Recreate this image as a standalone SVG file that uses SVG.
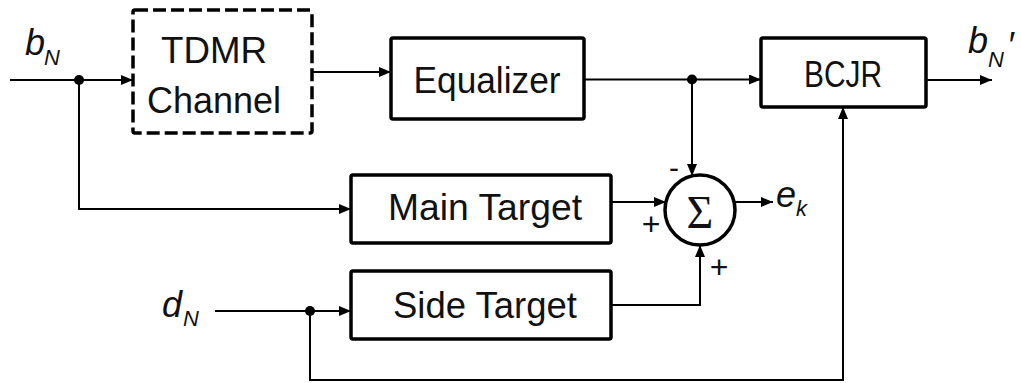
<svg xmlns="http://www.w3.org/2000/svg" width="1021" height="383" viewBox="0 0 1021 383">
  <style>
    .box { fill: #ffffff; stroke: #000000; stroke-width: 3.5; }
    .dash { stroke-dasharray: 13 5; }
    .lbl { font-family: "Liberation Sans", Arial, sans-serif; font-size: 36px; fill: #111111; text-anchor: middle; }
    .var { font-family: "Liberation Sans", Arial, sans-serif; font-style: italic; fill: #111111; font-size: 36px; }
    .sub { font-family: "Liberation Sans", Arial, sans-serif; font-style: italic; fill: #111111; font-size: 22px; }
    .sign { font-family: "Liberation Sans", Arial, sans-serif; fill: #111111; text-anchor: middle; }
    .wire { fill: none; stroke: #000000; stroke-width: 2; }
    .arr { marker-end: url(#head); }
  </style>
  <defs>
    <marker id="head" viewBox="0 0 12 10" refX="12" refY="5" markerWidth="12" markerHeight="10" markerUnits="userSpaceOnUse" orient="auto">
      <path d="M0,0 L12,5 L0,10 Z" fill="#000000"/>
    </marker>
  </defs>

  <rect width="1021" height="383" fill="#ffffff"/>

  <!-- connectors -->
  <g id="connectors">
    <path class="wire arr" d="M10,80 H133"/>
    <path class="wire arr" d="M79,80 V209 H351"/>
    <path class="wire arr" d="M312,72 H391"/>
    <path class="wire arr" d="M584,79.5 H761"/>
    <path class="wire arr" d="M692,79.5 V176"/>
    <path class="wire arr" d="M926,80 H992"/>
    <path class="wire arr" d="M611,202 H666"/>
    <path class="wire arr" d="M611,305 H700 V245"/>
    <path class="wire arr" d="M735,202 H773"/>
    <path class="wire arr" d="M215,311 H351"/>
    <path class="wire arr" d="M310,311 V380 H843 V107"/>
    <circle cx="79" cy="80" r="5" fill="#000000"/>
    <circle cx="692" cy="79.5" r="5" fill="#000000"/>
    <circle cx="310" cy="311" r="5" fill="#000000"/>
  </g>

  <!-- signal labels -->
  <g id="labels">
    <text class="var" x="25" y="55">b</text>
    <text class="sub" x="44" y="65">N</text>
    <text class="var" x="968" y="53">b</text>
    <text class="sub" x="988" y="67">N</text>
    <text class="var" x="1007" y="58">′</text>
    <text class="var" x="162" y="317">d</text>
    <text class="sub" x="183" y="326">N</text>
    <text class="var" x="776" y="207">e</text>
    <text class="sub" x="796" y="216">k</text>
  </g>

  <g id="tdmr">
    <rect class="box dash" x="133" y="10" width="179" height="123" rx="2"/>
    <text class="lbl" x="214" y="63" textLength="106" lengthAdjust="spacingAndGlyphs">TDMR</text>
    <text class="lbl" x="214" y="113" textLength="134" lengthAdjust="spacingAndGlyphs">Channel</text>
  </g>

  <g id="equalizer">
    <rect class="box" x="391" y="38" width="193" height="81" rx="2"/>
    <text class="lbl" x="487" y="93" textLength="147" lengthAdjust="spacingAndGlyphs">Equalizer</text>
  </g>

  <g id="bcjr">
    <rect class="box" x="761" y="38" width="165" height="69" rx="2"/>
    <text class="lbl" x="843" y="87" textLength="78" lengthAdjust="spacingAndGlyphs">BCJR</text>
  </g>

  <g id="main-target">
    <rect class="box" x="351" y="175" width="260" height="68" rx="2"/>
    <text class="lbl" x="485" y="220" textLength="194" lengthAdjust="spacingAndGlyphs">Main Target</text>
  </g>

  <g id="side-target">
    <rect class="box" x="351" y="271" width="260" height="68" rx="2"/>
    <text class="lbl" x="485" y="318" textLength="184" lengthAdjust="spacingAndGlyphs">Side Target</text>
  </g>

  <g id="summer">
    <circle class="box" cx="700" cy="210" r="35"/>
    <text x="700" y="228" font-family="'Liberation Serif', 'Times New Roman', serif" font-size="46" fill="#111111" text-anchor="middle">Σ</text>
    <text class="sign" x="674" y="178" font-size="30">-</text>
    <text class="sign" x="651" y="235" font-size="32">+</text>
    <text class="sign" x="719" y="278" font-size="32">+</text>
  </g>
</svg>
